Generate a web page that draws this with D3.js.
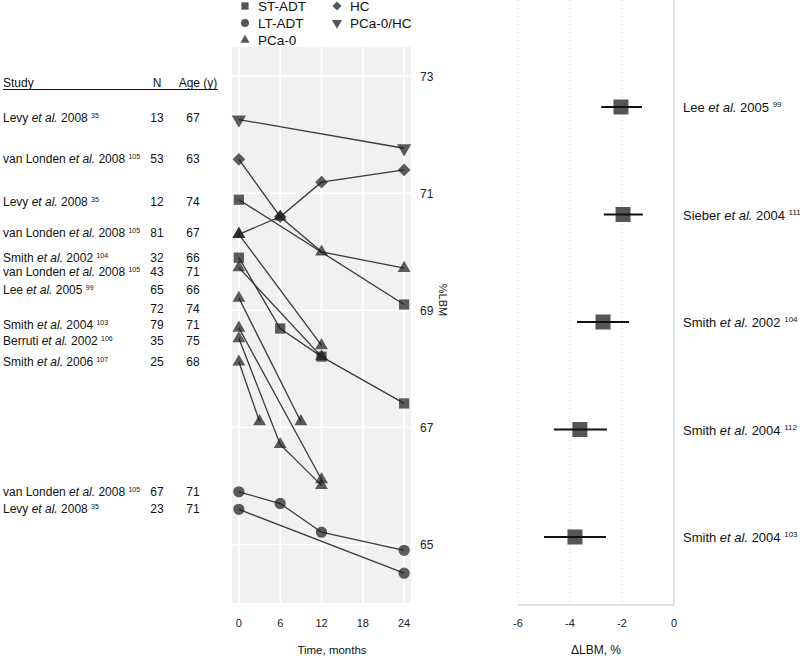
<!DOCTYPE html>
<html><head><meta charset="utf-8">
<script src="https://cdn.jsdelivr.net/npm/d3@7/dist/d3.min.js"></script>
<style>body{margin:0;background:#fff}svg{display:block;font-family:"Liberation Sans",Arial,sans-serif}</style>
</head><body><svg id="c" width="800" height="656"></svg>
<script>
// ---------- DATA ----------
const groups = ["ST-ADT","LT-ADT","PCa-0","HC","PCa-0/HC"];
const timeTicks = [0,6,12,18,24];
const lbmTicks = [65,67,69,71,73];
const forestTicks = [-6,-4,-2,0];

const lineGroup = ["PCa-0/HC","HC","ST-ADT","PCa-0","PCa-0","ST-ADT","PCa-0","PCa-0","PCa-0","PCa-0","PCa-0","LT-ADT","LT-ADT"];
const lineMonths = [[0,24],[0,6,12,24],[0,24],[0,6,12,24],[0,12],[0,6,12,24],[0,12],[0,9],[0,12],[0,6,12],[0,3],[0,6,12,24],[0,24]];
const lineLBM = [[72.26,71.77],[71.58,70.6,71.19,71.4],[70.89,69.1],[70.3,70.6,70.0,69.72],[70.3,68.4],[69.9,68.69,68.21,67.41],[69.73,68.21],[69.21,67.1],[68.7,66.11],[68.52,66.71,66.01],[68.12,67.1],[65.9,65.7,65.21,64.9],[65.6,64.51]];

const tableAuthor = ["Levy","van Londen","Levy","van Londen","Smith","van Londen","Lee","","Smith","Berruti","Smith","van Londen","Levy"];
const tableYear = ["2008","2008","2008","2008","2002","2008","2005","","2004","2002","2006","2008","2008"];
const tableRef = ["35","105","35","105","104","105","99","","103","106","107","105","35"];
const tableN = [13,53,12,81,32,43,65,72,79,35,25,67,23];
const tableAge = [67,63,74,67,66,71,66,74,71,75,68,71,71];

const forestAuthor = ["Lee","Sieber","Smith","Smith","Smith"];
const forestYear = ["2005","2004","2002","2004","2004"];
const forestRef = ["99","111","104","112","103"];
const forestMean = [-2.04,-1.96,-2.73,-3.62,-3.81];
const forestLow = [-2.8,-2.7,-3.73,-4.62,-5.0];
const forestHigh = [-1.23,-1.2,-1.73,-2.58,-2.62];

// ---------- DRAWING ----------
const svg = d3.select("#c");
const x = d3.scaleLinear().domain([-1,25]).range([232,411]);
const y = d3.scaleLinear().domain([64.0,73.5]).range([603,47]);

const shapes = {
  "ST-ADT": {type:d3.symbolSquare, size:105, rot:0},
  "LT-ADT": {type:d3.symbolCircle, size:100, rot:0},
  "PCa-0": {type:d3.symbolTriangle, size:72, rot:0},
  "HC": {type:d3.symbolSquare, size:80, rot:45},
  "PCa-0/HC": {type:d3.symbolTriangle, size:88, rot:180}
};
function sym(g, scale){ const s = shapes[g]; return d3.symbol().type(s.type).size(s.size*(scale||1))(); }

// panel
svg.append("rect").attr("x",232).attr("y",47).attr("width",179).attr("height",556).attr("fill","#f1f1f1");
svg.append("g").selectAll("line").data(timeTicks).join("line")
  .attr("x1",d=>x(d)).attr("x2",d=>x(d)).attr("y1",47).attr("y2",603)
  .attr("stroke","#fff").attr("stroke-width",1.6);
svg.append("g").selectAll("line").data(lbmTicks).join("line")
  .attr("x1",232).attr("x2",411).attr("y1",d=>y(d)).attr("y2",d=>y(d))
  .attr("stroke","#fff").attr("stroke-width",1.6);

// lines
const lineGen = d3.line().x(d=>x(d[0])).y(d=>y(d[1]));
const series = lineGroup.map((g,i)=>({g, pts: lineMonths[i].map((m,j)=>[m, lineLBM[i][j]])}));
svg.append("g").selectAll("path").data(series).join("path")
  .attr("d",d=>lineGen(d.pts)).attr("fill","none").attr("stroke","#3a3a3a").attr("stroke-width",1.3);
// markers
const pts = series.flatMap(s=>s.pts.map(p=>({g:s.g,m:p[0],v:p[1]})));
svg.append("g").selectAll("path").data(pts).join("path")
  .attr("d",d=>sym(d.g))
  .attr("transform",d=>`translate(${x(d.m)},${y(d.v)}) rotate(${shapes[d.g].rot})`)
  .attr("fill","#1a1a1a").attr("fill-opacity",0.7);

// x axis labels
svg.append("g").selectAll("text").data(timeTicks).join("text")
  .attr("x",d=>x(d)).attr("y",627).attr("text-anchor","middle")
  .attr("font-size",11).attr("fill","#222").text(d=>d);
svg.append("text").attr("x",332).attr("y",654).attr("text-anchor","middle")
  .attr("font-size",11.5).attr("fill","#111").text("Time, months");
// y axis (right)
svg.append("g").selectAll("text").data(lbmTicks).join("text")
  .attr("x",420).attr("y",d=>y(d)+4.5).attr("font-size",12).attr("fill","#222").text(d=>d);
svg.append("text").attr("transform","translate(439,300) rotate(90)").attr("text-anchor","middle")
  .attr("font-size",11).attr("fill","#222").text("%LBM");

// legend
const legPos = [[245,6],[245,23],[245,40],[337,6],[337,23]];
const leg = svg.append("g");
groups.forEach((g,i)=>{
  leg.append("path").attr("d",sym(g,0.5))
    .attr("transform",`translate(${legPos[i][0]},${legPos[i][1]}) rotate(${shapes[g].rot})`)
    .attr("fill","#555");
  leg.append("text").attr("x",legPos[i][0]+13).attr("y",legPos[i][1]+5)
    .attr("font-size",13.5).attr("fill","#111").text(g);
});

// table
const tbl = svg.append("g").attr("font-size",12).attr("fill","#111");
tbl.append("text").attr("x",3).attr("y",87).text("Study");
tbl.append("text").attr("x",157).attr("y",87).attr("text-anchor","middle").text("N");
tbl.append("text").attr("x",198).attr("y",87).attr("text-anchor","middle").text("Age (y)");
tbl.append("line").attr("x1",3).attr("x2",218).attr("y1",89.5).attr("y2",89.5).attr("stroke","#111").attr("stroke-width",1);
const rowY = [118,159,202,233,258,272,290,309,325,341,362,492,509];
tableN.forEach((n,i)=>{
  const ty = rowY[i]+4;
  if (tableAuthor[i]) {
    const t = tbl.append("text").attr("x",3).attr("y",ty);
    t.append("tspan").text(tableAuthor[i]+" ");
    t.append("tspan").attr("font-style","italic").text("et al.");
    t.append("tspan").text(" "+tableYear[i]+" ");
    t.append("tspan").attr("font-size",7).attr("dy",-4).text(tableRef[i]);
  }
  tbl.append("text").attr("x",157).attr("y",ty).attr("text-anchor","middle").text(n);
  tbl.append("text").attr("x",193).attr("y",ty).attr("text-anchor","middle").text(tableAge[i]);
});

// forest plot
const fx = d3.scaleLinear().domain([-6,0]).range([518,674]);
const fy = d3.scalePoint().domain(d3.range(forestMean.length)).range([107,537]);
const fg = svg.append("g");
fg.selectAll("line.grid").data(forestTicks.filter(d=>d!==0)).join("line").attr("class","grid")
  .attr("x1",d=>fx(d)).attr("x2",d=>fx(d)).attr("y1",0).attr("y2",605)
  .attr("stroke","#d6d6d6").attr("stroke-dasharray","1.5,2.5");
fg.append("line").attr("x1",fx(0)).attr("x2",fx(0)).attr("y1",0).attr("y2",606).attr("stroke","#d9d9d9").attr("stroke-width",1.5);
fg.append("line").attr("x1",fx(-6)).attr("x2",fx(0)).attr("y1",605).attr("y2",605).attr("stroke","#d9d9d9").attr("stroke-width",1.5);
fg.selectAll("text.tick").data(forestTicks).join("text").attr("class","tick")
  .attr("x",d=>fx(d)).attr("y",627).attr("text-anchor","middle")
  .attr("font-size",11).attr("fill","#222").text(d=>d);
fg.append("text").attr("x",596).attr("y",654).attr("text-anchor","middle")
  .attr("font-size",12).attr("fill","#111").text("ΔLBM, %");
forestMean.forEach((m,i)=>{
  fg.append("rect").attr("x",fx(m)-7.5).attr("y",fy(i)-7.5).attr("width",15).attr("height",15).attr("fill","#555");
  fg.append("line").attr("x1",fx(forestLow[i])).attr("x2",fx(forestHigh[i]))
    .attr("y1",fy(i)).attr("y2",fy(i)).attr("stroke","#111").attr("stroke-width",2);
  const t = fg.append("text").attr("x",683).attr("y",fy(i)+5).attr("font-size",13).attr("fill","#111");
  t.append("tspan").text(forestAuthor[i]+" ");
  t.append("tspan").attr("font-style","italic").text("et al.");
  t.append("tspan").text(" "+forestYear[i]+" ");
  t.append("tspan").attr("font-size",8).attr("dy",-5).text(forestRef[i]);
});
</script></body></html>
